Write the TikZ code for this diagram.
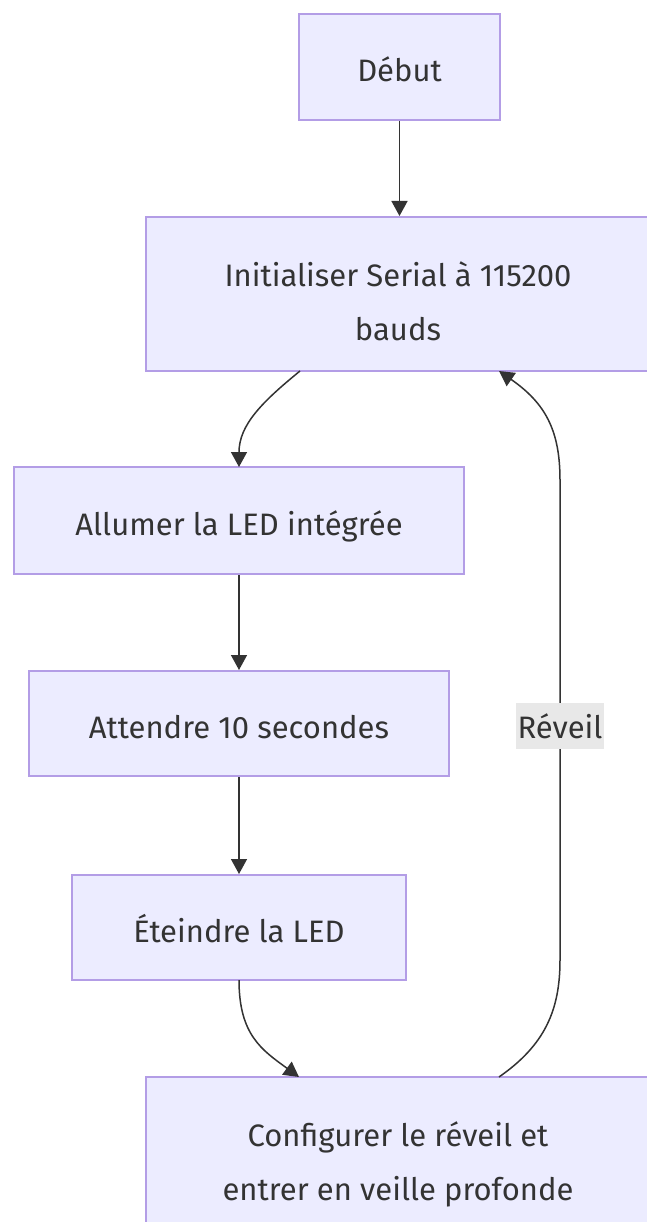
\documentclass[tikz,border=0pt]{standalone}
\usepackage{fontspec}
\setmainfont{Fira Sans}
\usetikzlibrary{arrows.meta}
\definecolor{nodefill}{HTML}{ECECFF}
\definecolor{nodeborder}{HTML}{B39DE6}
\definecolor{edgecol}{HTML}{333333}
\definecolor{labelbg}{HTML}{E8E8E8}
\tikzset{
  x=1pt, y=1pt,
  box/.style={draw=nodeborder, fill=nodefill, line width=2pt, align=center,
    font=\fontsize{31}{54}\selectfont, text=edgecol, inner sep=0pt,
    text height=30pt, text depth=0pt},
  twoline/.style={text height=92pt, text depth=0pt},
  flow/.style={draw=edgecol, line width=1.5pt, -{Triangle[length=15pt,width=16pt]}},
  lbl/.style={fill=labelbg, font=\fontsize{31}{36}\selectfont, text=edgecol, inner sep=2pt,
    minimum width=86pt, minimum height=46pt}
}
\begin{document}
\begin{tikzpicture}
\useasboundingbox (0,0) rectangle (646,-1222);
\node[box, minimum width=201pt, minimum height=106pt] (debut) at (399.5,-67) {Début};
\node[box, twoline, minimum width=504pt, minimum height=154pt] (init) at (398,-294) {Initialiser Serial à 115200\\bauds};
\node[box, minimum width=450pt, minimum height=107pt] (allumer) at (239,-520.5) {Allumer la LED intégrée};
\node[box, minimum width=420pt, minimum height=105pt] (attendre) at (239,-723.5) {Attendre 10 secondes};
\node[box, minimum width=334pt, minimum height=105pt] (eteindre) at (239,-927.5) {Éteindre la LED};
\node[box, twoline, minimum width=504pt, minimum height=154pt] (config) at (398,-1154) {Configurer le réveil et\\entrer en veille profonde};

\coordinate (i1) at (300,-371);
\coordinate (a1) at (239,-467);
\coordinate (e1) at (239,-980);
\coordinate (c1) at (299,-1077);
\coordinate (c2) at (499,-1077);
\coordinate (i2) at (499,-371);
\coordinate (r1) at (560,-960);
\coordinate (r2) at (560,-480);

\draw[flow] (debut.south) -- (init.north -| debut.south);
\draw[flow] (i1) .. controls (262,-402) and (239,-425) .. (a1);
\draw[flow] (allumer.south) -- (attendre.north);
\draw[flow] (attendre.south) -- (eteindre.north);
\draw[flow] (e1) .. controls (239,-1035) and (262,-1050) .. (c1);
\draw[flow] (c2) .. controls (545,-1045) and (560,-1010) .. (r1) -- (r2) .. controls (560,-430) and (545,-403) .. (i2);
\node[lbl] (reveil) at (560,-726) {Réveil};
\end{tikzpicture}
\end{document}
